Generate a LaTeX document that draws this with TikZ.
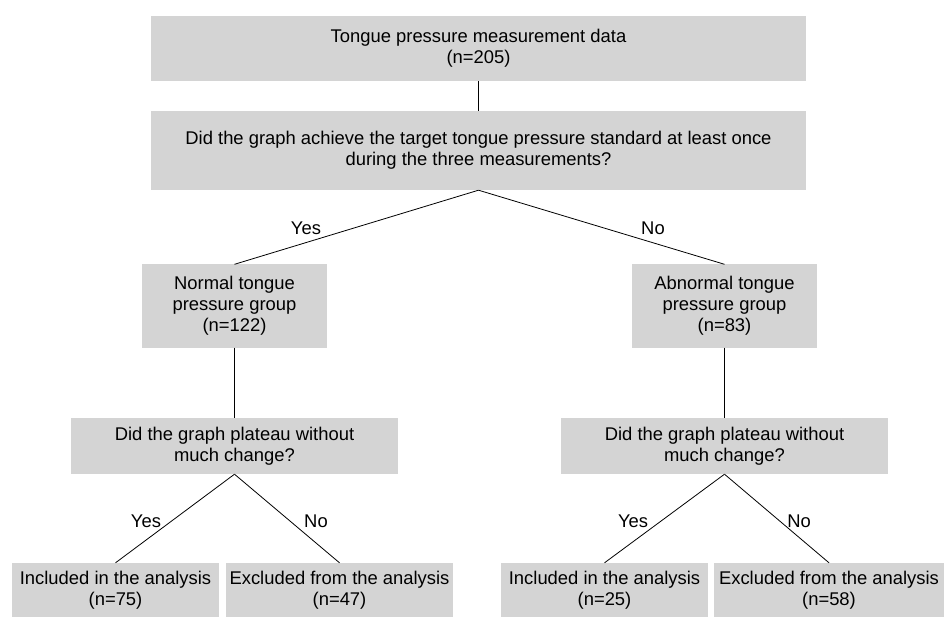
\documentclass[tikz,border=0pt]{standalone}
\usepackage{fontspec}
\setmainfont{Liberation Sans}
\usepackage{tikz}
\usepackage{xcolor}
\usetikzlibrary{positioning}
\definecolor{boxgray}{RGB}{212,212,212}

\begin{document}
\begin{tikzpicture}[x=1pt, y=-1pt,
    every node/.style={font=\fontsize{18.4}{21.2}\selectfont, inner sep=0pt},
    flowbox/.style={fill=boxgray, align=center, minimum height=#1},
    flowbox/.default=54pt,
    link/.style={line width=0.8pt}]
  \useasboundingbox (0,0) rectangle (944,617);
  % --- Top levels ---
  \node[flowbox=65pt, minimum width=655pt] (data) at (478.5,48.5) {Tongue pressure measurement data\\(n=205)};
  \node[flowbox=79pt, minimum width=655pt] (target) at (478.5,150.5) {Did the graph achieve the target tongue pressure standard at least once\\during the three measurements?};
  \draw[link] (data.south) -- (target.north);

  % --- Groups ---
  \node[flowbox=83pt, minimum width=185pt] (normal) at (234.5,306) {Normal tongue\\pressure group\\(n=122)};
  \node[flowbox=83pt, minimum width=185pt] (abnormal) at (724.5,306) {Abnormal tongue\\pressure group\\(n=83)};
  \draw[link] (target.south) -- (normal.north);
  \draw[link] (target.south) -- (abnormal.north);
  \node (yesTop) at (306,228) {Yes};
  \node (noTop) at (653,228) {No};

  % --- Plateau questions ---
  \node[flowbox=56pt, minimum width=327pt] (plateauL) at (234.5,446) {Did the graph plateau without\\much change?};
  \node[flowbox=56pt, minimum width=327pt] (plateauR) at (724.5,446) {Did the graph plateau without\\much change?};
  \draw[link] (normal.south) -- (plateauL.north);
  \draw[link] (abnormal.south) -- (plateauR.north);

  % --- Outcomes ---
  \node[flowbox, minimum width=207pt] (inclL) at (115.5,590) {Included in the analysis\\(n=75)};
  \node[flowbox, minimum width=227pt] (exclL) at (339.5,590) {Excluded from the analysis\\(n=47)};
  \node[flowbox, minimum width=207pt] (inclR) at (604.5,590) {Included in the analysis\\(n=25)};
  \node[flowbox, minimum width=230pt] (exclR) at (829,590) {Excluded from the analysis\\(n=58)};
  \draw[link] (plateauL.south) -- (inclL.north);
  \draw[link] (plateauL.south) -- (exclL.north);
  \draw[link] (plateauR.south) -- (inclR.north);
  \draw[link] (plateauR.south) -- (exclR.north);
  \node (yesL) at (146,521) {Yes};
  \node (noL) at (316,521) {No};
  \node (yesR) at (633,521) {Yes};
  \node (noR) at (799,521) {No};
\end{tikzpicture}
\end{document}
